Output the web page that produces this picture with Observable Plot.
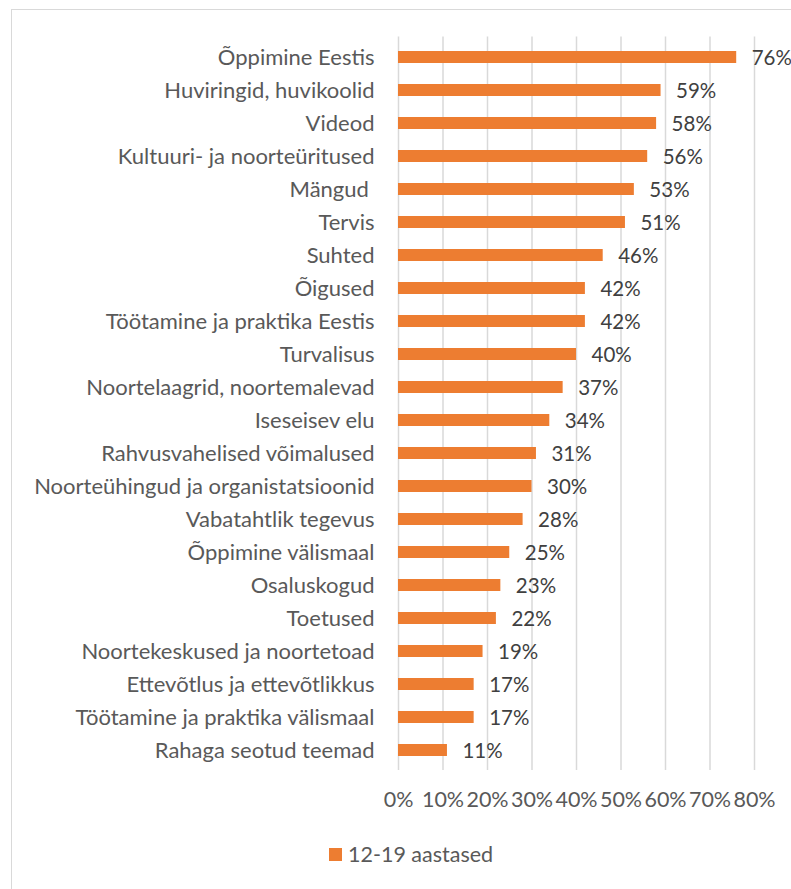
<!DOCTYPE html>
<html>
<head>
<meta charset="utf-8">
<script src="https://cdn.jsdelivr.net/npm/d3@7"></script>
<script src="https://cdn.jsdelivr.net/npm/@observablehq/plot@0.6"></script>
<style>
  html, body { margin: 0; padding: 0; background: #fff; }
  #wrap { position: relative; width: 791px; height: 889px; overflow: hidden; font-family: Lato, "Open Sans", sans-serif; }
  #frame { position: absolute; left: 11px; top: 9px; width: 820px; height: 920px; border: 1.5px solid #d9d9d9; box-sizing: border-box; }
  #chart { position: absolute; left: 0; top: 0; }
  #legend { position: absolute; left: 329px; top: 841px; display: flex; align-items: center; font-size: 21.5px; color: #595959; }
  #legend .sw { width: 13px; height: 13px; background: #ED7D31; margin-right: 6px; }
</style>
</head>
<body>
<div id="wrap">
  <div id="frame"></div>
  <div id="chart"></div>
  <div id="legend"><div class="sw"></div><span id="legendText"></span></div>
</div>
<script>
const categories = [
  "Õppimine Eestis",
  "Huviringid, huvikoolid",
  "Videod",
  "Kultuuri- ja noorteüritused",
  "Mängud\u00a0",
  "Tervis",
  "Suhted",
  "Õigused",
  "Töötamine ja praktika Eestis",
  "Turvalisus",
  "Noortelaagrid, noortemalevad",
  "Iseseisev elu",
  "Rahvusvahelised võimalused",
  "Noorteühingud ja organistatsioonid",
  "Vabatahtlik tegevus",
  "Õppimine välismaal",
  "Osaluskogud",
  "Toetused",
  "Noortekeskused ja noortetoad",
  "Ettevõtlus ja ettevõtlikkus",
  "Töötamine ja praktika välismaal",
  "Rahaga seotud teemad"
];
const values = [0.76, 0.59, 0.58, 0.56, 0.53, 0.51, 0.46, 0.42, 0.42, 0.40, 0.37, 0.34, 0.31, 0.30, 0.28, 0.25, 0.23, 0.22, 0.19, 0.17, 0.17, 0.11];
const xTicks = [0, 0.1, 0.2, 0.3, 0.4, 0.5, 0.6, 0.7, 0.8];
const seriesName = "12-19 aastased";

const data = categories.map((c, i) => ({category: c, value: values[i]}));
const pct = v => Math.round(v * 100) + "%";

const chart = Plot.plot({
  width: 791,
  height: 889,
  marginLeft: 398,
  marginRight: 37,
  marginTop: 36.5,
  marginBottom: 119,
  style: {fontFamily: "Lato, 'Open Sans', sans-serif", fontSize: "22px", color: "#595959", background: "transparent"},
  x: {domain: [0, 0.8]},
  y: {domain: categories, paddingInner: 0.64, paddingOuter: 0.32},
  marks: [
    Plot.gridX(xTicks, {stroke: "#d9d9d9", strokeOpacity: 1, strokeWidth: 1.5}),
    Plot.barX(data, {x: "value", y: "category", fill: "#ED7D31"}),
    Plot.text(data, {x: "value", y: "category", text: d => pct(d.value), textAnchor: "start", dx: 15, dy: 1, fill: "#404040", fontSize: 20.5}),
    Plot.axisY({tickSize: 0, tickPadding: 24, label: null, fontSize: 22}),
    Plot.axisX({ticks: xTicks, tickFormat: pct, tickSize: 0, tickPadding: 21, label: null, fontSize: 21.5})
  ]
});
document.getElementById("chart").appendChild(chart);
document.getElementById("legendText").textContent = seriesName;
</script>
</body>
</html>
